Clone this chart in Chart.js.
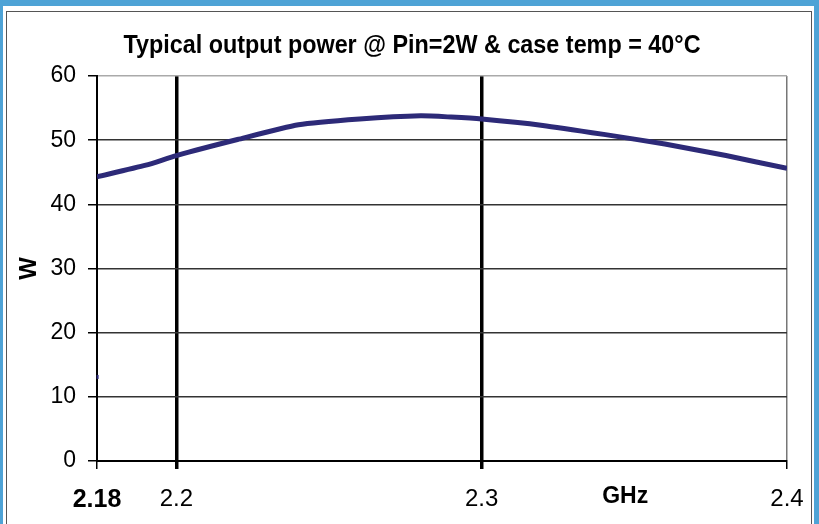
<!DOCTYPE html>
<html lang="en">
<head>
    <meta charset="UTF-8">
    <title>Typical output power</title>
    <style>
        html, body { margin: 0; padding: 0; background: #fff; }
        #frame {
            position: absolute; left: 0; top: 0; width: 819px; height: 524px;
            box-sizing: border-box;
            border-top: 6px solid #4ea3d6;
            border-left: 3px solid #4ea3d6;
            border-right: 5px solid #4ea3d6;
        }
        #box {
            position: absolute; left: 6px; top: 11px; width: 806px; height: 513px;
            box-sizing: border-box;
            border: 1px solid #555; border-bottom: none;
        }
        #wrap { position: absolute; left: 0; top: 0; width: 804px; height: 512px; }
    </style>
    <script src="https://cdn.jsdelivr.net/npm/chart.js@4"></script>
</head>
<body>
    <div id="frame"></div>
    <div id="box"><div id="wrap"><canvas id="grafica"></canvas></div></div>
    <script>
        // frequency (GHz) and output power (W)
        const freq = [2.174, 2.19, 2.2, 2.22, 2.24, 2.26, 2.28, 2.29, 2.30, 2.32, 2.34, 2.36, 2.38, 2.40];
        const power = [44.3, 46.1, 47.6, 50.1, 52.4, 53.3, 53.8, 53.6, 53.3, 52.3, 50.9, 49.4, 47.6, 45.6];
        // stray mark on the left axis
        const strayFreq = [2.1742];
        const strayPower = [13.1];

        const xTicks = [2.174, 2.2, 2.3, 2.4];
        const xTickLabels = ['2.18', '2.2', '2.3', '2.4'];
        const yTicks = [0, 10, 20, 30, 40, 50, 60];

        const titulo = 'Typical output power @ Pin=2W & case temp = 40°C';
        const sans = '"Liberation Sans", Arial, sans-serif';

        // title in a narrow bold face, and "GHz" in the tick label row
        const textos = {
            id: 'textos',
            afterDraw(chart) {
                const ctx = chart.ctx;
                const x = chart.scales.x;
                ctx.save();
                ctx.fillStyle = '#000';
                ctx.textAlign = 'center';
                ctx.textBaseline = 'alphabetic';
                ctx.font = 'bold 25px ' + sans;
                const w = ctx.measureText(titulo).width;
                ctx.translate(405, 41);
                ctx.scale(577 / w, 1);
                ctx.fillText(titulo, 0, 0);
                ctx.restore();

                ctx.save();
                ctx.fillStyle = '#000';
                ctx.textAlign = 'center';
                ctx.textBaseline = 'top';
                ctx.font = 'bold 23px ' + sans;
                ctx.fillText('GHz', x.getPixelForValue(2.347), x.top + 8 + 16);
                ctx.restore();
            }
        };

        const $grafica = document.querySelector('#grafica');
        new Chart($grafica, {
            type: 'line',
            data: {
                datasets: [{
                    data: freq.map((f, i) => ({ x: f, y: power[i] })),
                    borderColor: '#2d2a78',
                    borderWidth: 5,
                    pointRadius: 0,
                    tension: 0.2,
                    fill: false
                }, {
                    data: strayFreq.map((f, i) => ({ x: f, y: strayPower[i] })),
                    showLine: false,
                    clip: false,
                    pointStyle: 'line',
                    rotation: 90,
                    pointRadius: 2,
                    borderColor: '#2d2a78',
                    borderWidth: 2
                }]
            },
            options: {
                responsive: true,
                maintainAspectRatio: false,
                animation: false,
                layout: { padding: { left: 0, right: 24, top: 64, bottom: 0 } },
                plugins: {
                    legend: { display: false },
                    tooltip: { enabled: false },
                    title: { display: false }
                },
                scales: {
                    x: {
                        type: 'linear',
                        min: xTicks[0],
                        max: xTicks[xTicks.length - 1],
                        afterBuildTicks: s => { s.ticks = xTicks.map(v => ({ value: v })); },
                        afterFit: s => { s.height = 63; s.paddingLeft = 0; s.paddingRight = 0; },
                        border: { display: true, color: '#000', width: 2 },
                        grid: {
                            color: c => (c.tick && c.tick.value === 2.4) ? '#777' : '#000',
                            lineWidth: c => (c.tick && (c.tick.value === 2.2 || c.tick.value === 2.3)) ? 3.5 : 1.5,
                            tickColor: '#000',
                            tickLength: 8
                        },
                        ticks: {
                            color: '#000',
                            padding: 16,
                            maxRotation: 0,
                            autoSkip: false,
                            font: c => c.index === 0
                                ? { family: sans, size: 25, weight: 'bold' }
                                : { family: sans, size: 24 },
                            callback: (v, i) => xTickLabels[i]
                        }
                    },
                    y: {
                        min: 0,
                        max: 60,
                        afterBuildTicks: s => { s.ticks = yTicks.map(v => ({ value: v })); },
                        afterFit: s => { s.width = 90; },
                        border: { display: true, color: '#000', width: 2 },
                        grid: {
                            color: c => c.tick && c.tick.value === 60 ? '#aaa' : (c.tick && c.tick.value === 0 ? '#000' : '#333'),
                            lineWidth: 1.5,
                            tickColor: '#000',
                            tickLength: 9
                        },
                        ticks: {
                            color: '#000',
                            padding: 12,
                            font: { family: sans, size: 23 }
                        },
                        title: {
                            display: true,
                            text: 'W',
                            color: '#000',
                            font: { family: sans, size: 24, weight: 'bold' },
                            padding: { top: 8, bottom: 0 }
                        }
                    }
                }
            },
            plugins: [textos]
        });
    </script>
</body>
</html>
